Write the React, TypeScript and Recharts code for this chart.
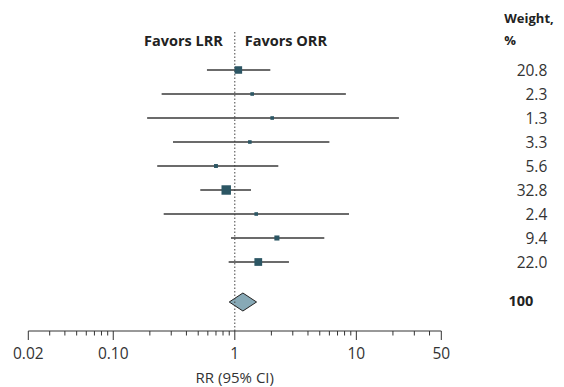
import {
  ComposedChart,
  Scatter,
  ErrorBar,
  XAxis,
  YAxis,
  ReferenceLine,
  ReferenceArea,
} from 'recharts'

// study rows, top to bottom
const weights = [20.8, 2.3, 1.3, 3.3, 5.6, 32.8, 2.4, 9.4, 22.0]
const weightLabels = ['20.8', '2.3', '1.3', '3.3', '5.6', '32.8', '2.4', '9.4', '22.0']
const rr = [1.07, 1.39, 2.03, 1.33, 0.7, 0.85, 1.5, 2.22, 1.56]
const lower = [0.59, 0.25, 0.19, 0.31, 0.23, 0.52, 0.26, 0.93, 0.89]
const upper = [1.96, 8.2, 22.4, 6.0, 2.28, 1.36, 8.7, 5.45, 2.79]

// pooled estimate
const pooledRR = 1.17
const pooledLower = 0.9
const pooledUpper = 1.51
const pooledWeight = '100'

const majorTicks = [0.02, 0.1, 1, 10, 50]
const majorLabels = ['0.02', '0.10', '1', '10', '50']
const minorTicks = [
  0.03, 0.04, 0.05, 0.06, 0.07, 0.08, 0.09,
  0.2, 0.3, 0.4, 0.5, 0.6, 0.7, 0.8, 0.9,
  2, 3, 4, 5, 6, 7, 8, 9,
  20, 30, 40,
]

const POOLED_ROW = 9 + 2 / 3
const FONT = '"Open Sans", sans-serif'
const INK = '#333'
const FS = 15.5

const studyData = rr.map((v, i) => ({
  x: v,
  y: i,
  w: weights[i],
  err: [v - lower[i], upper[i] - v],
}))

const allTicks = [...majorTicks, ...minorTicks].sort((a, b) => a - b)
const rowTicks = [...weights.map((_, i) => i), POOLED_ROW]

const SquareShape = (props: any) => {
  const { cx, cy, payload } = props
  const s = Math.max(3.6, 1.65 * Math.sqrt(payload.w))
  return <rect x={cx - s / 2} y={cy - s / 2} width={s} height={s} fill="#2c5664" />
}

const Diamond = (props: any) => {
  const { x, y, width, height } = props
  const cy = y + height / 2
  const cx = x + width / 2
  return (
    <polygon
      points={`${x},${cy} ${cx},${y} ${x + width},${cy} ${cx},${y + height}`}
      fill="#87a9b6"
      stroke="#222"
      strokeWidth={1}
    />
  )
}

const XTick = (props: any) => {
  const { x, y, payload } = props
  const idx = majorTicks.indexOf(payload.value)
  const major = idx >= 0
  return (
    <g>
      <line x1={x} x2={x} y1={y} y2={y + (major ? 9 : 4.5)} stroke={INK} strokeWidth={1} />
      {major && (
        <text x={x} y={y + 22} textAnchor="middle" dominantBaseline="central" fontSize={FS} fill={INK}>
          {majorLabels[idx]}
        </text>
      )}
    </g>
  )
}

const WeightTick = (props: any) => {
  const { x, y, index } = props
  const pooled = index >= weightLabels.length
  return (
    <text
      x={x + (pooled ? 92 : 106)}
      y={pooled ? y - 2 : y}
      textAnchor="end"
      dominantBaseline="central"
      fontSize={pooled ? 14.5 : FS}
      fontWeight={pooled ? 700 : 400}
      fill={pooled ? '#222' : INK}
    >
      {pooled ? pooledWeight : weightLabels[index]}
    </text>
  )
}

const WeightHeader = (props: any) => {
  const { x, y } = props.viewBox
  return (
    <g fontSize={13} fontWeight={700} fill="#222">
      <text x={x + 63} y={y - 13} dominantBaseline="central">Weight,</text>
      <text x={x + 63} y={y + 9} dominantBaseline="central">%</text>
    </g>
  )
}

const FavorsLabel = (props: any) => {
  const { x, y } = props.viewBox
  return (
    <g fontSize={14.5} fontWeight={700} fill="#222">
      <text x={x - 12} y={y + 9} textAnchor="end" dominantBaseline="central">Favors LRR</text>
      <text x={x + 10} y={y + 9} textAnchor="start" dominantBaseline="central">Favors ORR</text>
    </g>
  )
}

const AxisTitle = (props: any) => {
  const { x, y, width } = props.viewBox
  return (
    <text x={x + width / 2} y={y + 46} textAnchor="middle" dominantBaseline="central" fontSize={15} fill={INK}>
      RR (95% CI)
    </text>
  )
}

export default function App() {
  return (
    <div style={{ fontFamily: FONT }}>
      <ComposedChart
        width={556}
        height={379}
        data={studyData}
        margin={{ top: 23, right: 12.7, left: 20.3, bottom: 0 }}
        style={{ fontFamily: FONT }}
      >
        <XAxis
          dataKey="x"
          type="number"
          scale="log"
          domain={[0.02, 50]}
          allowDataOverflow
          ticks={allTicks}
          interval={0}
          tick={<XTick />}
          tickLine={false}
          tickSize={0}
          tickMargin={0}
          axisLine={{ stroke: INK, strokeWidth: 1 }}
          height={56}
          label={AxisTitle}
        />
        <YAxis
          dataKey="y"
          type="number"
          orientation="right"
          domain={[-1.625, 10.875]}
          reversed
          allowDataOverflow
          ticks={rowTicks}
          interval={0}
          tick={<WeightTick />}
          tickLine={false}
          axisLine={false}
          tickSize={0}
          tickMargin={0}
          width={110}
          label={WeightHeader}
        />
        <ReferenceLine x={1} stroke="#444" strokeDasharray="1.5 2" strokeWidth={1} label={FavorsLabel} />
        <ReferenceArea
          x1={pooledLower}
          x2={pooledUpper}
          y1={POOLED_ROW - 0.375}
          y2={POOLED_ROW + 0.375}
          shape={Diamond}
        />
        <Scatter data={studyData} dataKey="y" shape={SquareShape} isAnimationActive={false}>
          <ErrorBar dataKey="err" direction="x" width={0} stroke="#3a3a3a" strokeWidth={1.3} isAnimationActive={false} />
        </Scatter>
        {/* pooled point estimate, drawn by the diamond above */}
        <Scatter data={[{ x: pooledRR, y: POOLED_ROW }]} dataKey="y" shape={() => <g />} isAnimationActive={false} />
      </ComposedChart>
    </div>
  )
}
